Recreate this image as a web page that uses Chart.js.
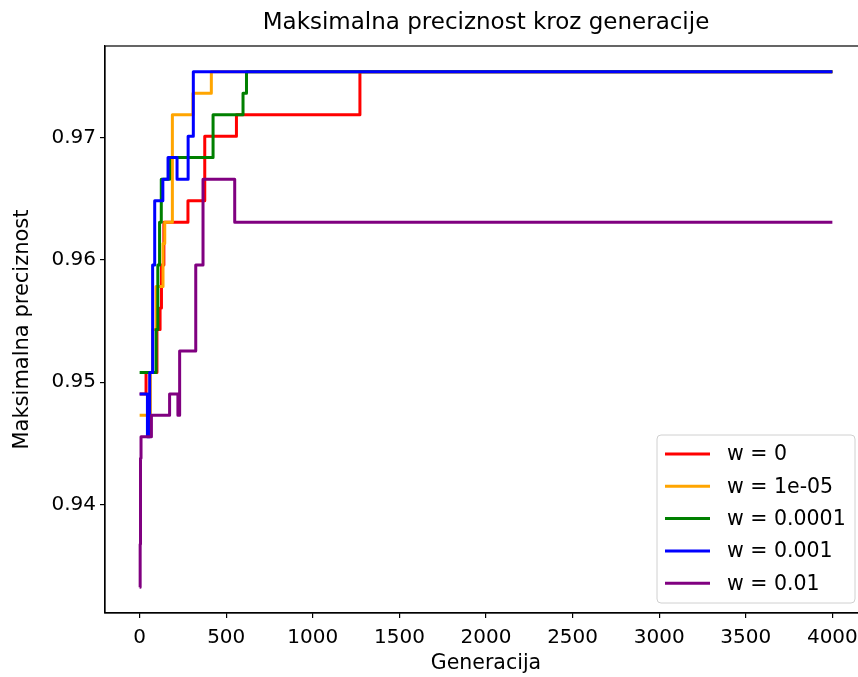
<!DOCTYPE html>
<html><head><meta charset="utf-8">
<script src="https://cdn.jsdelivr.net/npm/chart.js@4.4.0/dist/chart.umd.min.js"></script>
<style>
html,body{margin:0;padding:0;overflow:hidden;background:#fff;width:858px;height:677px}
#wrap{position:absolute;left:0;top:0;width:972px;height:677px}
</style>
</head><body><div id="wrap"><canvas id="c" width="972" height="677"></canvas></div>
<script>
// ---- data ----
const seriesLabels = ['w = 0', 'w = 1e-05', 'w = 0.0001', 'w = 0.001', 'w = 0.01'];
const seriesColors = ['red', 'orange', 'green', 'blue', 'purple'];

const genW0     = [0, 37, 100, 118, 126, 140, 279, 376, 559, 1272, 4000];
const precW0    = [0.94903, 0.95079, 0.95431, 0.95606, 0.95958, 0.96309, 0.96485, 0.97012, 0.97188, 0.97540, 0.97540];

const genW1e5   = [0, 62, 75, 95, 135, 145, 189, 308, 414, 4000];
const precW1e5  = [0.94728, 0.95079, 0.95431, 0.95782, 0.96134, 0.96309, 0.97188, 0.97364, 0.97540, 0.97540];

const genW1e4   = [0, 95, 105, 115, 125, 173, 424, 597, 617, 4000];
const precW1e4  = [0.95079, 0.95431, 0.95958, 0.96309, 0.96661, 0.96837, 0.97188, 0.97364, 0.97540, 0.97540];

const genW1e3   = [0, 45, 58, 75, 87, 134, 164, 216, 280, 310, 4000];
const precW1e3  = [0.94903, 0.94552, 0.95079, 0.95958, 0.96485, 0.96661, 0.96837, 0.96661, 0.97012, 0.97540, 0.97540];

const genW1e2   = [0, 3, 5, 8, 68, 173, 221, 231, 324, 366, 549, 4000];
const precW1e2  = [0.93322, 0.93673, 0.94376, 0.94552, 0.94728, 0.94903, 0.94728, 0.95255, 0.95958, 0.96661, 0.96309, 0.96309];

const xTicks = [0, 500, 1000, 1500, 2000, 2500, 3000, 3500, 4000];
const yTicks = [0.94, 0.95, 0.96, 0.97];
const xLimits = [-200, 4200];
const yLimits = [0.931107, 0.977504];

const seriesGens = [genW0, genW1e5, genW1e4, genW1e3, genW1e2];
const seriesPrec = [precW0, precW1e5, precW1e4, precW1e3, precW1e2];

// ---- chart ----
const FONT = 'DejaVu Sans';
const datasets = seriesLabels.map((lab, i) => ({
  label: lab,
  data: seriesGens[i].map((g, j) => ({x: g, y: seriesPrec[i][j]})),
  borderColor: seriesColors[i],
  backgroundColor: seriesColors[i],
  borderWidth: 3,
  pointRadius: 0,
  fill: false,
  stepped: 'before',
  order: seriesLabels.length - i,
  borderJoinStyle: 'round'
}));

const framePlugin = {
  id: 'frame',
  afterDatasetsDraw(chart) {
    const a = chart.chartArea, ctx = chart.ctx;
    ctx.save();
    ctx.strokeStyle = '#000';
    ctx.lineWidth = 1.2;
    ctx.strokeRect(a.left, a.top, a.right - a.left, a.bottom - a.top);
    ctx.restore();
  }
};

const legendPlugin = {
  id: 'mplLegend',
  afterDraw(chart) {
    const ctx = chart.ctx;
    const bx = 657, by = 435, bw = 198, bh = 168, r = 4;
    ctx.save();
    ctx.beginPath();
    ctx.moveTo(bx + r, by);
    ctx.lineTo(bx + bw - r, by); ctx.quadraticCurveTo(bx + bw, by, bx + bw, by + r);
    ctx.lineTo(bx + bw, by + bh - r); ctx.quadraticCurveTo(bx + bw, by + bh, bx + bw - r, by + bh);
    ctx.lineTo(bx + r, by + bh); ctx.quadraticCurveTo(bx, by + bh, bx, by + bh - r);
    ctx.lineTo(bx, by + r); ctx.quadraticCurveTo(bx, by, bx + r, by);
    ctx.closePath();
    ctx.fillStyle = 'rgba(255,255,255,0.8)';
    ctx.fill();
    ctx.strokeStyle = '#d0d0d0';
    ctx.lineWidth = 1;
    ctx.stroke();
    ctx.font = '20.5px "' + FONT + '"';
    ctx.textBaseline = 'middle';
    ctx.textAlign = 'left';
    chart.data.datasets.forEach((ds, i) => {
      const yy = 454 + i * 32.3;
      ctx.strokeStyle = ds.borderColor;
      ctx.lineWidth = 3;
      ctx.beginPath();
      ctx.moveTo(665, yy); ctx.lineTo(710, yy);
      ctx.stroke();
      ctx.fillStyle = '#000';
      ctx.fillText(ds.label, 727, yy + 1);
    });
    ctx.restore();
  }
};

new Chart(document.getElementById('c'), {
  type: 'line',
  data: {datasets},
  options: {
    responsive: false,
    animation: false,
    devicePixelRatio: 1,
    layout: {padding: {left: 0, right: 105, top: 0, bottom: 0}},
    plugins: {
      legend: {display: false},
      tooltip: {enabled: false},
      title: {
        display: true,
        fullSize: false,
        text: 'Maksimalna preciznost kroz generacije',
        color: '#000',
        font: {family: FONT, size: 23, weight: 'normal', lineHeight: 1.2},
        padding: {top: 9, bottom: 9.4}
      }
    },
    scales: {
      x: {
        type: 'linear',
        min: xLimits[0], max: xLimits[1],
        afterBuildTicks: s => { s.ticks = xTicks.map(v => ({value: v})); },
        afterFit: s => { s.height = 64; },
        ticks: {color: '#000', font: {family: FONT, size: 20}, padding: 8, maxRotation: 0, autoSkip: false,
                callback: v => String(v)},
        grid: {drawOnChartArea: false, drawTicks: true, tickLength: 5, color: '#000', lineWidth: 1.2},
        border: {display: true, color: '#000', width: 1.2},
        title: {display: true, text: 'Generacija', color: '#000',
                font: {family: FONT, size: 20.5, lineHeight: 1.2}, padding: {top: 0, bottom: 1}}
      },
      y: {
        type: 'linear',
        min: yLimits[0], max: yLimits[1],
        afterBuildTicks: s => { s.ticks = yTicks.map(v => ({value: v})); },
        afterFit: s => { s.width = 105; },
        ticks: {color: '#000', font: {family: FONT, size: 20}, padding: 4,
                callback: v => Number(v).toFixed(2)},
        grid: {drawOnChartArea: false, drawTicks: true, tickLength: 5, color: '#000', lineWidth: 1.2},
        border: {display: true, color: '#000', width: 1.2},
        title: {display: true, text: 'Maksimalna preciznost', color: '#000',
                font: {family: FONT, size: 21, lineHeight: 1.2}, padding: {top: 10, bottom: 0}}
      }
    }
  },
  plugins: [framePlugin, legendPlugin]
});
</script>
</body></html>
